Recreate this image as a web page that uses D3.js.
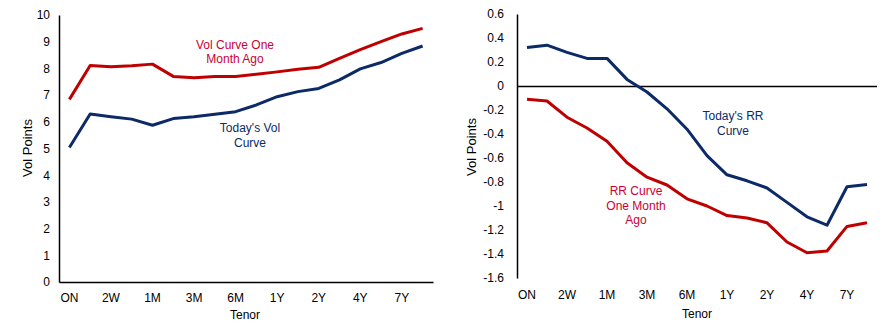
<!DOCTYPE html>
<html>
<head>
<meta charset="utf-8">
<script src="https://cdn.jsdelivr.net/npm/d3@7"></script>
<style>
  body { margin: 0; background: #fff; }
  svg text { font-family: "Liberation Sans", Arial, sans-serif; font-size: 12px; fill: #000; }
</style>
</head>
<body>
<div id="chart"></div>
<script>
const tenors = ['ON', '1W', '2W', '3W', '1M', '2M', '3M', '4M', '6M', '9M', '1Y', '18M', '2Y', '3Y', '4Y', '5Y', '7Y', '10Y'];
const shownTenors = ['ON', '2W', '1M', '3M', '6M', '1Y', '2Y', '4Y', '7Y'];

const volToday    = [5.04, 6.29, 6.19, 6.10, 5.87, 6.12, 6.19, 6.28, 6.38, 6.63, 6.94, 7.13, 7.25, 7.57, 7.98, 8.22, 8.56, 8.84];
const volMonthAgo = [6.84, 8.11, 8.06, 8.10, 8.16, 7.70, 7.65, 7.70, 7.70, 7.78, 7.87, 7.97, 8.04, 8.38, 8.70, 9.00, 9.29, 9.50];

const rrToday    = [0.32, 0.34, 0.28, 0.23, 0.23, 0.055, -0.05, -0.19, -0.36, -0.58, -0.74, -0.79, -0.85, -0.97, -1.09, -1.16, -0.84, -0.82];
const rrMonthAgo = [-0.11, -0.125, -0.26, -0.35, -0.46, -0.64, -0.76, -0.825, -0.94, -1.0, -1.08, -1.10, -1.14, -1.30, -1.39, -1.375, -1.17, -1.14];

const volTicks = d3.range(0, 11, 1);
const rrTicks = d3.range(-1.6, 0.61, 0.2).map(v => +v.toFixed(1));

const navy = '#0c2a66';
const red = '#c00000';
const redText = '#cc0033';

const w = 893;
const h = 333;

const svg = d3.select('#chart')
  .append('svg')
    .attr('width', w)
    .attr('height', h);

function panel(opts) {
  const x = d3.scaleBand()
    .domain(tenors)
    .range([opts.left, opts.right]);

  const y = d3.scaleLinear()
    .domain(opts.domain)
    .range([opts.bottom, opts.top]);

  const cx = d => x(d) + x.bandwidth() / 2;

  // y axis: plain line, labels only
  const yAxis = svg.append('g')
      .attr('transform', `translate(${opts.left}, 0)`)
    .call(d3.axisLeft(y).tickValues(opts.ticks).tickSize(0).tickSizeOuter(0)
      .tickPadding(opts.yPad).tickFormat(d => String(d)));
  yAxis.select('.domain').attr('stroke', '#000').attr('stroke-width', 1.5);
  yAxis.selectAll('text').style('font-size', '12px');

  // x axis labels along the bottom, every other tenor
  const xAxis = svg.append('g')
      .attr('transform', `translate(0, ${opts.bottom})`)
    .call(d3.axisBottom(x).tickValues(shownTenors).tickSize(0).tickSizeOuter(0)
      .tickPadding(opts.xPad));
  xAxis.select('.domain')
    .attr('stroke', opts.baseLine ? '#000' : 'none')
    .attr('stroke-width', 1.5);
  xAxis.selectAll('text').style('font-size', '12px');

  if (opts.zeroLine) {
    svg.append('line')
      .attr('x1', opts.left)
      .attr('x2', opts.right)
      .attr('y1', Math.round(y(0)) + 0.5)
      .attr('y2', Math.round(y(0)) + 0.5)
      .attr('stroke', '#000')
      .attr('stroke-width', 1.3);
  }

  const line = d3.line()
    .x((d, i) => cx(tenors[i]))
    .y(d => y(d));

  opts.series.forEach(s => {
    svg.append('path')
      .datum(s.values)
      .attr('d', line)
      .attr('fill', 'none')
      .attr('stroke', s.color)
      .attr('stroke-width', 3)
      .attr('stroke-linejoin', 'round');
  });

  svg.append('text')
    .attr('transform', `translate(${opts.yLabelX}, ${opts.yLabelY}) rotate(-90)`)
    .attr('text-anchor', 'middle')
    .style('font-size', '13px')
    .text('Vol Points');

  svg.append('text')
    .attr('x', opts.tenorX)
    .attr('y', opts.tenorY)
    .attr('text-anchor', 'middle')
    .text('Tenor');
}

function note(lines, x, y, color) {
  const t = svg.append('text')
    .attr('text-anchor', 'middle')
    .style('fill', color);
  lines.forEach((l, i) => {
    t.append('tspan')
      .attr('x', x)
      .attr('y', y + i * 14.5)
      .text(l);
  });
}

panel({
  left: 59, right: 433, top: 15, bottom: 282,
  domain: [0, 10], ticks: volTicks,
  yPad: 9, xPad: 11, baseLine: true, zeroLine: false,
  yLabelX: 32, yLabelY: 148, tenorX: 245, tenorY: 319,
  series: [
    { values: volMonthAgo, color: red },
    { values: volToday, color: navy }
  ]
});

panel({
  left: 517, right: 877, top: 14, bottom: 278,
  domain: [-1.6, 0.6], ticks: rrTicks,
  yPad: 13, xPad: 12, baseLine: false, zeroLine: true,
  yLabelX: 476, yLabelY: 147, tenorX: 697, tenorY: 318,
  series: [
    { values: rrMonthAgo, color: red },
    { values: rrToday, color: navy }
  ]
});

note(['Vol Curve One', 'Month Ago'], 235, 48.5, redText);
note(["Today's Vol", 'Curve'], 250, 132, navy);
note(["Today's RR", 'Curve'], 733, 120, navy);
note(['RR Curve', 'One Month', 'Ago'], 636, 195, redText);
</script>
</body>
</html>
